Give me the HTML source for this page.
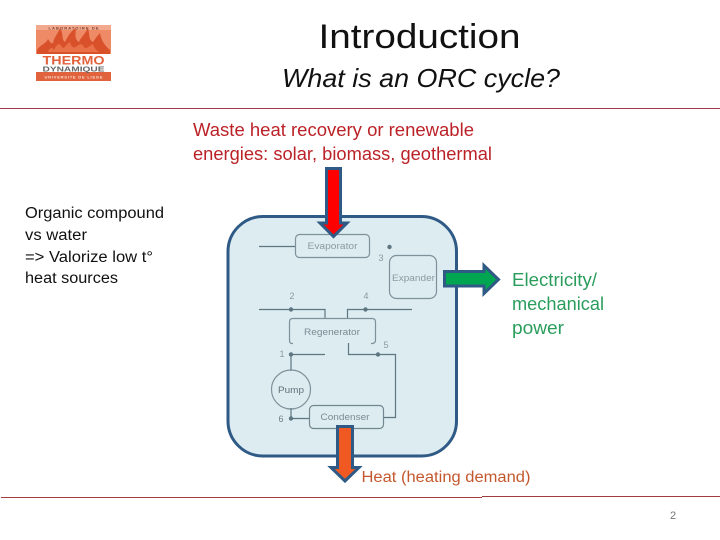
<!DOCTYPE html>
<html><head><meta charset="utf-8"><style>
html,body{margin:0;padding:0;background:#fff}
svg{display:block}
text{font-family:"Liberation Sans",sans-serif}
</style></head><body>
<svg width="720" height="540" viewBox="0 0 720 540" xmlns="http://www.w3.org/2000/svg">
<rect width="720" height="540" fill="#fff"/>
<!-- logo -->
<rect x="36" y="25" width="75" height="29" fill="#ee8a66"/>
<rect x="36" y="25" width="75" height="5" fill="#f2a98e"/>
<path d="M37 54 L37 50 C41 44 46 44 48 39 C50 42 51 44 53 43 C54 37 58 34 60 28 C64 34 61 39 65 42 C68 36 71 31 76 28 C75 35 75 40 79 42 C81 37 86 33 88 28 C90 35 88 39 93 42 C95 39 97 36 100 33 C101 40 105 46 110 50 L110 54 Z" fill="#d9512b"/>
<path d="M48 52 C50 47 52 47 54 50 C57 44 59 42 62 47 C64 50 66 44 70 42 C71 47 74 49 77 46 C80 44 82 43 84 47 C86 50 89 46 93 44 C94 48 96 50 99 52 Z" fill="#e97047"/>
<rect x="36" y="54" width="75" height="18" fill="#fff"/>
<rect x="36" y="72" width="75" height="9" fill="#e0633d"/>
<text x="73.5" y="64.5" font-size="12" font-weight="bold" fill="#e2613a" text-anchor="middle" textLength="62" lengthAdjust="spacingAndGlyphs">THERMO</text>
<text x="73.5" y="71.5" font-size="7.5" font-weight="bold" fill="#666" text-anchor="middle" textLength="62" lengthAdjust="spacingAndGlyphs">DYNAMIQUE</text>
<text x="73.5" y="78.5" font-size="4" font-weight="bold" fill="#fbe0d5" text-anchor="middle" textLength="58" lengthAdjust="spacing">UNIVERSITE DE LIEGE</text>
<text x="73.5" y="29.5" font-size="4" font-weight="bold" fill="#7a4030" text-anchor="middle" textLength="50" lengthAdjust="spacing">LABORATOIRE DE</text>
<!-- titles -->
<text x="419.5" y="48" font-size="34" fill="#111" text-anchor="middle" textLength="202" lengthAdjust="spacingAndGlyphs">Introduction</text>
<text x="421" y="87" font-size="26" font-style="italic" fill="#111" text-anchor="middle" textLength="278" lengthAdjust="spacingAndGlyphs">What is an ORC cycle?</text>
<line x1="0" y1="108.5" x2="720" y2="108.5" stroke="#a33c4a" stroke-width="1"/>
<!-- red text -->
<text x="193" y="136" font-size="18" fill="#bb2228" textLength="281" lengthAdjust="spacingAndGlyphs">Waste heat recovery or renewable</text>
<text x="193" y="160" font-size="18" fill="#bb2228" textLength="299" lengthAdjust="spacingAndGlyphs">energies: solar, biomass, geothermal</text>
<!-- left text -->
<g font-size="15.5" fill="#111">
<text x="25" y="218" textLength="139" lengthAdjust="spacingAndGlyphs">Organic compound</text>
<text x="25" y="240" textLength="62" lengthAdjust="spacingAndGlyphs">vs water</text>
<text x="25" y="262" textLength="128" lengthAdjust="spacingAndGlyphs">=&gt; Valorize low t°</text>
<text x="25" y="283" textLength="93" lengthAdjust="spacingAndGlyphs">heat sources</text>
</g>
<!-- main box -->
<rect x="228" y="216.5" width="228.5" height="239.5" rx="35" ry="35" fill="#dcecf1" stroke="#2f5a86" stroke-width="3"/>
<!-- diagram -->
<g fill="none" stroke="#5e7681" stroke-width="1.2">
<line x1="259" y1="246.5" x2="295" y2="246.5"/>
<rect x="295.5" y="234.5" width="74" height="23" rx="4" stroke="#7f929b"/>
<rect x="389.5" y="255.5" width="47" height="43" rx="7" stroke="#7f929b"/>
<path d="M259 309.5H325V318M347.5 318V309.5H412"/>
<path d="M293 343.5H292Q289.5 343.5 289.5 340V322Q289.5 318.5 293 318.5H372Q375.5 318.5 375.5 322V340Q375.5 343.5 372 343.5H371" stroke="#7f929b"/>
<path d="M325 354.5H291V371"/>
<path d="M348.5 343V354.5H395.5V417.5H384"/>
<circle cx="291" cy="389.5" r="19.5" stroke="#7f929b"/>
<path d="M291 408V418.5H309"/>
<rect x="309.5" y="405.5" width="74" height="23" rx="4" stroke="#738791"/>
</g>
<g fill="#5e7681">
<circle cx="389.5" cy="247" r="2.2"/>
<circle cx="291" cy="309.5" r="2.2"/>
<circle cx="365.5" cy="309.5" r="2.2"/>
<circle cx="291" cy="354.5" r="2.2"/>
<circle cx="378" cy="354.5" r="2.2"/>
<circle cx="291" cy="418.5" r="2.2"/>
</g>
<g font-size="9" fill="#8b9aa1" text-anchor="middle">
<text x="332.5" y="249" textLength="50" lengthAdjust="spacingAndGlyphs">Evaporator</text>
<text x="413.5" y="281" textLength="43" lengthAdjust="spacingAndGlyphs">Expander</text>
<text x="332" y="335" textLength="56" lengthAdjust="spacingAndGlyphs" fill="#7a8b93">Regenerator</text>
<text x="291" y="393" fill="#5f7079" textLength="26" lengthAdjust="spacingAndGlyphs">Pump</text>
<text x="345" y="420" textLength="49" lengthAdjust="spacingAndGlyphs" fill="#7a8b93">Condenser</text>
<text x="381" y="261">3</text>
<text x="292" y="299">2</text>
<text x="366" y="299">4</text>
<text x="282" y="357">1</text>
<text x="386" y="348">5</text>
<text x="281" y="422" fill="#6f8088">6</text>
</g>
<!-- arrows -->
<polygon points="326.5,168.5 340.5,168.5 340.5,223 347,223 333.5,236.5 320,223 326.5,223" fill="#fe0000" stroke="#2f5a86" stroke-width="3" stroke-linejoin="miter"/>
<polygon points="444.5,271.5 484,271.5 484,265.5 498.5,279.5 484,293.5 484,286 444.5,286" fill="#00a551" stroke="#2f5a86" stroke-width="3"/>
<polygon points="337.5,426.5 352.5,426.5 352.5,467.5 359,467.5 345,481 331,467.5 337.5,467.5" fill="#f05a22" stroke="#2f5a86" stroke-width="3"/>
<!-- labels -->
<g font-size="18" fill="#2a9d5c">
<text x="512" y="286" textLength="85" lengthAdjust="spacingAndGlyphs">Electricity/</text>
<text x="512" y="310" textLength="92" lengthAdjust="spacingAndGlyphs">mechanical</text>
<text x="512" y="334" textLength="52" lengthAdjust="spacingAndGlyphs">power</text>
</g>
<text x="361.5" y="482" font-size="15.5" fill="#c4582d" textLength="169" lengthAdjust="spacingAndGlyphs">Heat (heating demand)</text>
<!-- footer -->
<line x1="1" y1="497.5" x2="482" y2="497.5" stroke="#a33c3c" stroke-width="1"/>
<line x1="482" y1="496.5" x2="720" y2="496.5" stroke="#a33c3c" stroke-width="1"/>
<text x="673" y="519" font-size="11" fill="#777" text-anchor="middle">2</text>
</svg>
</body></html>
